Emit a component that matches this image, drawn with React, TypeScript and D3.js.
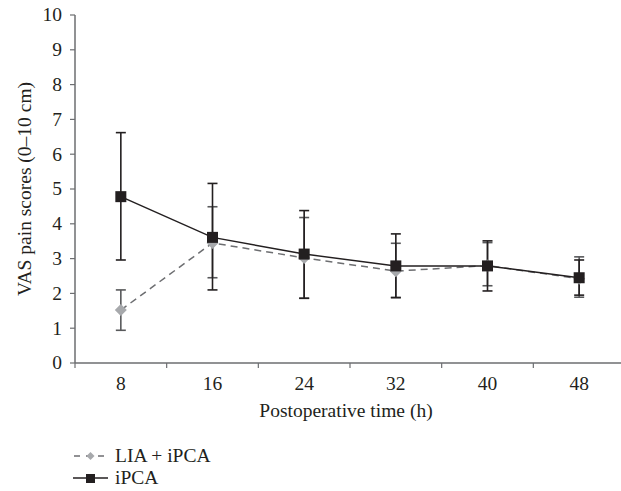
import React from "react";
import * as d3 from "d3";

const categories = ["8", "16", "24", "32", "40", "48"];
const yTicks = [0, 1, 2, 3, 4, 5, 6, 7, 8, 9, 10];

const liaMean = [1.52, 3.45, 3.02, 2.64, 2.8, 2.42];
const liaUpper = [2.1, 4.49, 4.18, 3.44, 3.46, 3.05];
const liaLower = [0.94, 2.45, 1.86, 1.88, 2.22, 1.89];

const ipcaMean = [4.78, 3.61, 3.13, 2.79, 2.79, 2.45];
const ipcaUpper = [6.62, 5.16, 4.38, 3.71, 3.51, 2.96];
const ipcaLower = [2.96, 2.1, 1.86, 1.88, 2.07, 1.95];

const W = 621;
const H = 491;
const FONT = "'Liberation Serif', 'DejaVu Serif', serif";
const FS = 19.5;

export default function App() {
  const x = d3.scaleBand<string>().domain(categories).range([75, 625]).padding(0);
  const y = d3.scaleLinear().domain([0, 10]).range([363, 15]);
  const cx = (c: string) => (x(c) as number) + x.bandwidth() / 2;
  const line = d3
    .line<number>()
    .x((_, i) => cx(categories[i]))
    .y((v) => y(v));

  const axisColor = "#6d6e71";
  const dark = "#231f20";
  const lia = "#a7a9ac";
  const capW = 5;

  const errBars = (upper: number[], lower: number[], color: string, key: string) =>
    categories.map((c, i) => (
      <g key={key + c} stroke={color} strokeWidth={1.6}>
        <line x1={cx(c)} x2={cx(c)} y1={y(upper[i])} y2={y(lower[i])} />
        <line x1={cx(c) - capW} x2={cx(c) + capW} y1={y(upper[i])} y2={y(upper[i])} />
        <line x1={cx(c) - capW} x2={cx(c) + capW} y1={y(lower[i])} y2={y(lower[i])} />
      </g>
    ));

  const boundaries = [0, 1, 2, 3, 4, 5, 6].map((i) => 75 + i * x.bandwidth());

  return (
    <svg width={W} height={H} style={{ position: "absolute", left: 0, top: 0, background: "#fff" }}>
      <rect x={0} y={0} width={W} height={H} fill="#fff" />
      {/* axes */}
      <line x1={75} x2={75} y1={y(10)} y2={y(0)} stroke={axisColor} strokeWidth={1.5} />
      <line x1={75} x2={625} y1={y(0)} y2={y(0)} stroke={axisColor} strokeWidth={1.5} />
      {yTicks.map((t) => (
        <g key={"yt" + t}>
          <line x1={70} x2={75} y1={y(t)} y2={y(t)} stroke={axisColor} strokeWidth={1.2} />
          <text x={62} y={y(t)} dy="0.33em" textAnchor="end" fontFamily={FONT} fontSize={FS} fill={dark}>
            {t}
          </text>
        </g>
      ))}
      {boundaries.map((b, i) => (
        <line key={"xt" + i} x1={b} x2={b} y1={y(0)} y2={y(0) + 5} stroke={axisColor} strokeWidth={1.2} />
      ))}
      {categories.map((c) => (
        <text key={"xl" + c} x={cx(c)} y={390} textAnchor="middle" fontFamily={FONT} fontSize={FS} fill={dark}>
          {c}
        </text>
      ))}
      <text x={346} y={417} textAnchor="middle" fontFamily={FONT} fontSize={FS} fill={dark}>
        Postoperative time (h)
      </text>
      <text
        transform={`translate(31, ${y(5)}) rotate(-90)`}
        textAnchor="middle"
        fontFamily={FONT}
        fontSize={FS}
        fill={dark}
      >
        VAS pain scores (0–10 cm)
      </text>

      {/* error bars */}
      {errBars(liaUpper, liaLower, "#58595b", "l")}
      {errBars(ipcaUpper, ipcaLower, dark, "p")}

      {/* lines */}
      <path d={line(liaMean) || ""} fill="none" stroke="#6d6e71" strokeWidth={1.5} strokeDasharray="7,5" />
      <path d={line(ipcaMean) || ""} fill="none" stroke={dark} strokeWidth={1.5} />

      {/* markers */}
      {categories.map((c, i) => (
        <path
          key={"lm" + c}
          d={`M${cx(c)},${y(liaMean[i]) - 6} L${cx(c) + 6},${y(liaMean[i])} L${cx(c)},${y(liaMean[i]) + 6} L${cx(c) - 6},${y(liaMean[i])} Z`}
          fill={lia}
        />
      ))}
      {categories.map((c, i) => (
        <rect key={"pm" + c} x={cx(c) - 5.5} y={y(ipcaMean[i]) - 5.5} width={11} height={11} fill={dark} />
      ))}

      {/* legend */}
      <line x1={73} x2={108} y1={456} y2={456} stroke="#6d6e71" strokeWidth={1.3} strokeDasharray="6,6" strokeDashoffset={-1} />
      <path d="M90.5,452 L94.5,456 L90.5,460 L86.5,456 Z" fill={lia} />
      <text x={115} y={456} dy="0.33em" fontFamily={FONT} fontSize={FS} fill={dark}>
        LIA + iPCA
      </text>
      <line x1={73} x2={108} y1={478} y2={478} stroke={dark} strokeWidth={1.5} />
      <rect x={86} y={474} width={9} height={9} fill={dark} />
      <text x={115} y={478} dy="0.33em" fontFamily={FONT} fontSize={FS} fill={dark}>
        iPCA
      </text>
    </svg>
  );
}
